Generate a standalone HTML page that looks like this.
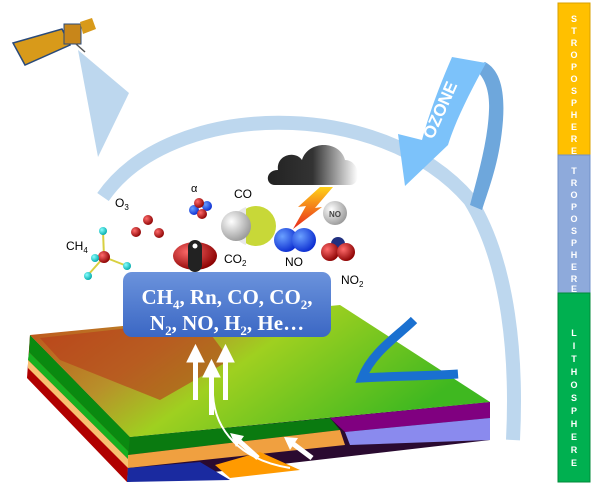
<!DOCTYPE html>
<html><head><meta charset="utf-8"><style>
html,body{margin:0;padding:0;background:#fff;}
svg{display:block;}
</style></head><body>
<svg width="600" height="484" viewBox="0 0 600 484" xmlns="http://www.w3.org/2000/svg">
<defs>
<linearGradient id="box" x1="0" y1="0" x2="0" y2="1"><stop offset="0" stop-color="#6b93dc"/><stop offset="1" stop-color="#3b67c4"/></linearGradient>
<linearGradient id="terr" x1="0" y1="0" x2="1" y2="0.4"><stop offset="0" stop-color="#c04a1a"/><stop offset="0.35" stop-color="#b8902a"/><stop offset="0.55" stop-color="#9fd020"/><stop offset="1" stop-color="#3fb820"/></linearGradient>
<linearGradient id="cloud" x1="0" y1="0" x2="1" y2="0"><stop offset="0" stop-color="#222"/><stop offset="0.5" stop-color="#333"/><stop offset="1" stop-color="#fff"/></linearGradient>
<linearGradient id="bolt" x1="0" y1="0" x2="0" y2="1"><stop offset="0" stop-color="#ffd21a"/><stop offset="1" stop-color="#e8261a"/></linearGradient>
<radialGradient id="red" cx="0.35" cy="0.35" r="0.7"><stop offset="0" stop-color="#ff6b6b"/><stop offset="1" stop-color="#8a0000"/></radialGradient>
<radialGradient id="blue" cx="0.35" cy="0.35" r="0.7"><stop offset="0" stop-color="#6aa0ff"/><stop offset="1" stop-color="#0a2bd0"/></radialGradient>
<radialGradient id="cyan" cx="0.35" cy="0.35" r="0.7"><stop offset="0" stop-color="#8ff"/><stop offset="1" stop-color="#0aa"/></radialGradient>
<radialGradient id="gray" cx="0.35" cy="0.35" r="0.7"><stop offset="0" stop-color="#fff"/><stop offset="1" stop-color="#999"/></radialGradient>
</defs>

<path d="M103,197 C170,100 380,95 470,200 C510,265 517,360 513,440" fill="none" stroke="#bdd7ee" stroke-width="14"/>

<polygon points="78,50 129,93 98,157" fill="#bdd7ee"/>
<polygon points="13,43 62,29 70,45 25,65" fill="#d89a1a" stroke="#2a4a7a" stroke-width="1.5"/>
<rect x="64" y="24" width="17" height="20" fill="#c8861a" stroke="#2a4a7a" stroke-width="1"/>
<polygon points="80,22 92,18 96,29 83,34" fill="#d89a1a"/>
<line x1="76" y1="44" x2="85" y2="52" stroke="#555" stroke-width="1.5"/>

<path d="M485,62 C500,70 505,90 503,120 C500,160 490,185 482,210 L470,205 C478,175 488,140 489,110 C490,90 484,75 473,68 Z" fill="#6ea7dc"/>
<path d="M452,57 L486,63 C470,92 455,122 448,145 L405,186 L398,134 L422,140 C430,110 442,80 452,57 Z" fill="#7cc2fa"/>
<text x="0" y="0" transform="translate(433,140) rotate(-66)" font-family="Liberation Sans, sans-serif" font-weight="bold" font-size="17" fill="#fff">OZONE</text>

<polygon points="30,335 130,437 127,482 27,378" fill="#b00000"/>
<polygon points="30,335 130,437 129,452 29,352" fill="#0a8a10"/>
<polygon points="29,352 129,452 129,460 28,360" fill="#17b020"/>
<polygon points="28,360 129,460 128,468 28,368" fill="#f8c070"/>
<polygon points="130,437 490,402 490,440 127,482" fill="#2a0a30"/>
<polygon points="130,437 330,418 340,430 128,455" fill="#0a7a10"/>
<polygon points="128,455 340,430 345,445 128,468" fill="#f0a040"/>
<polygon points="128,468 200,462 230,480 127,482" fill="#1a2aa0"/>
<polygon points="215,465 260,452 300,470 230,478" fill="#ff9a00"/>
<polygon points="330,418 490,402 490,418 345,432" fill="#800080"/>
<polygon points="345,432 490,418 490,440 350,445" fill="#8a8aee"/>
<polygon points="30,335 340,305 490,402 130,437" fill="url(#terr)"/>
<polygon points="40,338 200,320 230,360 160,400 60,360" fill="#b83a1a" opacity="0.6"/>
<path d="M414,320 C398,336 372,352 362,378 C395,376 430,376 458,374" fill="none" stroke="#1a70d0" stroke-width="9"/>

<g fill="#fff" stroke="#fff">
<rect x="193" y="360" width="5" height="40" stroke="none"/><polygon points="187,362 195.5,345 204,362"/>
<rect x="209" y="375" width="5" height="40" stroke="none"/><polygon points="203,377 211.5,360 220,377"/>
<rect x="223" y="360" width="5" height="40" stroke="none"/><polygon points="217,362 225.5,345 234,362"/>
</g>
<path d="M213,395 C215,430 240,460 290,468" fill="none" stroke="#fff" stroke-width="2"/>
<line x1="258" y1="458" x2="238" y2="440" stroke="#fff" stroke-width="5"/>
<polygon points="230,433 244,436 236,447" fill="#fff"/>
<line x1="312" y1="458" x2="292" y2="443" stroke="#fff" stroke-width="5"/>
<polygon points="284,437 298,438 290,450" fill="#fff"/>

<rect x="123" y="272" width="208" height="65" rx="9" fill="url(#box)"/>
<text x="227" y="304" text-anchor="middle" font-family="Liberation Serif, serif" font-weight="bold" font-size="21" fill="#fff">CH<tspan font-size="13" dy="5">4</tspan><tspan dy="-5">, Rn, CO, CO</tspan><tspan font-size="13" dy="5">2</tspan><tspan dy="-5">,</tspan></text>
<text x="227" y="330" text-anchor="middle" font-family="Liberation Serif, serif" font-weight="bold" font-size="21" fill="#fff">N<tspan font-size="13" dy="5">2</tspan><tspan dy="-5">, NO, H</tspan><tspan font-size="13" dy="5">2</tspan><tspan dy="-5">, He…</tspan></text>

<g font-family="Liberation Sans, sans-serif" font-size="12" fill="#000">
<text x="66" y="250">CH<tspan font-size="8" dy="3">4</tspan></text>
<text x="115" y="207">O<tspan font-size="8" dy="3">3</tspan></text>
<text x="191" y="192" font-size="11">α</text>
<text x="234" y="198">CO</text>
<text x="224" y="263">CO<tspan font-size="8" dy="3">2</tspan></text>
<text x="285" y="266">NO</text>
<text x="341" y="284">NO<tspan font-size="8" dy="3">2</tspan></text>
</g>
<g stroke="#d8d040" stroke-width="2"><line x1="104" y1="257" x2="103" y2="231"/><line x1="104" y1="257" x2="95" y2="258"/><line x1="104" y1="257" x2="88" y2="275"/><line x1="104" y1="257" x2="127" y2="266"/></g>
<circle cx="104" cy="257" r="6" fill="url(#red)"/>
<circle cx="103" cy="231" r="4" fill="url(#cyan)"/><circle cx="95" cy="258" r="4" fill="url(#cyan)"/><circle cx="88" cy="276" r="4" fill="url(#cyan)"/><circle cx="127" cy="266" r="4" fill="url(#cyan)"/>
<circle cx="148" cy="220" r="5" fill="url(#red)"/><circle cx="136" cy="232" r="5" fill="url(#red)"/><circle cx="159" cy="233" r="5" fill="url(#red)"/>
<circle cx="194" cy="210" r="5" fill="url(#blue)"/><circle cx="207" cy="206" r="5" fill="url(#blue)"/><circle cx="199" cy="203" r="5" fill="url(#red)"/><circle cx="202" cy="214" r="5" fill="url(#red)"/>
<circle cx="256" cy="226" r="20" fill="#c8d838"/><path d="M246,207 A20,20 0 0,0 246,245 Z" fill="#e8e8e8"/><circle cx="236" cy="226" r="15" fill="url(#gray)"/>
<ellipse cx="195" cy="256" rx="22" ry="14" fill="url(#red)"/><rect x="188" y="240" width="14" height="32" rx="7" fill="#222"/><circle cx="195" cy="246" r="2.5" fill="#fff"/>
<path d="M275,185 C265,185 265,170 278,170 C276,155 295,150 302,160 C308,140 340,140 345,160 C360,160 362,185 350,185 Z" fill="url(#cloud)"/>
<polygon points="320,187 333,187 315,208 322,207 293,229 306,206 298,207" fill="url(#bolt)"/>
<circle cx="335" cy="213" r="12" fill="url(#gray)"/><text x="335" y="217" text-anchor="middle" font-family="Liberation Sans, sans-serif" font-weight="bold" font-size="8" fill="#444">NO</text>
<circle cx="286" cy="240" r="12" fill="url(#blue)"/><circle cx="304" cy="240" r="12" fill="url(#blue)"/>
<circle cx="338" cy="244" r="7" fill="#203080"/><circle cx="330" cy="252" r="9" fill="url(#red)"/><circle cx="346" cy="252" r="9" fill="url(#red)"/>

<g font-family="Liberation Sans, sans-serif" font-weight="bold" font-size="9" fill="#fff" text-anchor="middle">
<rect x="558" y="3" width="32" height="152" fill="#ffc000" stroke="#d8a000"/>
<rect x="558" y="155" width="32" height="138" fill="#8eaadb" stroke="#7090c8"/>
<rect x="558" y="293" width="32" height="189" fill="#00b050" stroke="#008a3a"/>
<text x="574" y="22">S</text><text x="574" y="34">T</text><text x="574" y="46">R</text><text x="574" y="58">O</text><text x="574" y="70">P</text><text x="574" y="82">O</text><text x="574" y="94">S</text><text x="574" y="106">P</text><text x="574" y="118">H</text><text x="574" y="130">E</text><text x="574" y="142">R</text><text x="574" y="154">E</text>
<text x="574" y="174">T</text><text x="574" y="186">R</text><text x="574" y="198">O</text><text x="574" y="210">P</text><text x="574" y="222">O</text><text x="574" y="234">S</text><text x="574" y="246">P</text><text x="574" y="258">H</text><text x="574" y="270">E</text><text x="574" y="282">R</text><text x="574" y="292">E</text>
<text x="574" y="336">L</text><text x="574" y="349">I</text><text x="574" y="362">T</text><text x="574" y="375">H</text><text x="574" y="388">O</text><text x="574" y="401">S</text><text x="574" y="414">P</text><text x="574" y="427">H</text><text x="574" y="440">E</text><text x="574" y="453">R</text><text x="574" y="466">E</text>
</g>
</svg>
</body></html>
